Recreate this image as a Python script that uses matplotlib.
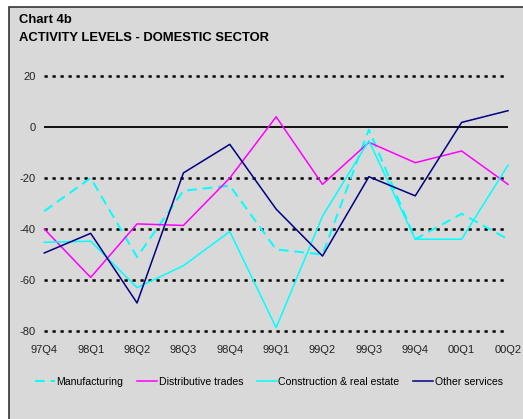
import numpy as np
import matplotlib.pyplot as plt
from matplotlib.patches import Rectangle

plt.rcParams['font.family'] = ['Liberation Sans', 'DejaVu Sans']

quarters = ['97Q4', '98Q1', '98Q2', '98Q3', '98Q4', '99Q1', '99Q2', '99Q3', '99Q4', '00Q1', '00Q2']
manufacturing = [-33, -20, -51, -25, -23, -48, -50, -1, -44, -34, -44]
distributive = [-40, -59, -38, -38.6, -20, 4, -22.5, -6, -14, -9.4, -22.5]
construction = [-45.2, -44.8, -63, -54.4, -41, -78.7, -35, -5.4, -44, -44, -15]
other_services = [-49.4, -41.7, -69, -18, -6.8, -32.2, -50.6, -19.5, -27, 1.8, 6.4]
yticks = [20, 0, -20, -40, -60, -80]

W, H = 523, 419
fig = plt.figure(figsize=(W / 100, H / 100), dpi=100, facecolor='white')

# gray panel with dark border on left and top
fig.patches.append(Rectangle((9 / W, -0.1), 1.2, 1 - 7 / H + 0.1, transform=fig.transFigure,
                             facecolor='#d9d9d9', edgecolor='#333333', linewidth=1.2, zorder=-5))

fig.text(19 / W, 1 - 20 / H, 'Chart 4b', fontsize=9.4, fontweight='bold', va='center')
fig.text(19 / W, 1 - 38 / H, 'ACTIVITY LEVELS - DOMESTIC SECTOR', fontsize=9.4, fontweight='bold', va='center')

left, right = 44.3 / W, 508 / W
top, bottom = 1 - 76 / H, 1 - 331 / H
ax = fig.add_axes([left, bottom, right - left, top - bottom])
ax.set_facecolor('none')
x = np.arange(len(quarters))
ax.set_xlim(0, len(quarters) - 1)
ax.set_ylim(-80, 20)

for y in yticks:
    if y == 0:
        ax.hlines(y, 0, len(quarters) - 1, color='black', lw=1.3, clip_on=False, zorder=1)
    else:
        ax.hlines(y, 0, len(quarters) - 1, color='black', lw=1.8,
                  linestyles=(0, (1.3, 1.9)), clip_on=False, zorder=1)

ax.plot(x, manufacturing, color='#00ffff', lw=1.4, ls=(0, (5, 3)), label='Manufacturing', clip_on=False, zorder=3)
ax.plot(x, distributive, color='#ff00ff', lw=1.1, label='Distributive trades', clip_on=False, zorder=3)
ax.plot(x, construction, color='#00ffff', lw=1.1, label='Construction & real estate', clip_on=False, zorder=3)
ax.plot(x, other_services, color='#000080', lw=1.1, label='Other services', clip_on=False, zorder=3)

for s in ax.spines.values():
    s.set_visible(False)
ax.set_yticks(yticks)
ax.set_yticklabels([str(v) for v in yticks])
ax.set_xticks(x)
ax.set_xticklabels(quarters)
ax.tick_params(axis='y', length=0, pad=6, labelsize=8, labelcolor='#222222')
ax.tick_params(axis='x', length=0, pad=10, labelsize=8, labelcolor='#222222')

fig.legend(loc='center', bbox_to_anchor=(0.514, 1 - 382 / H), ncol=4, frameon=False,
           fontsize=7.6, handlelength=1.9, handletextpad=0.15, columnspacing=1.3)

fig.savefig('out.png', dpi=100, facecolor='white')
